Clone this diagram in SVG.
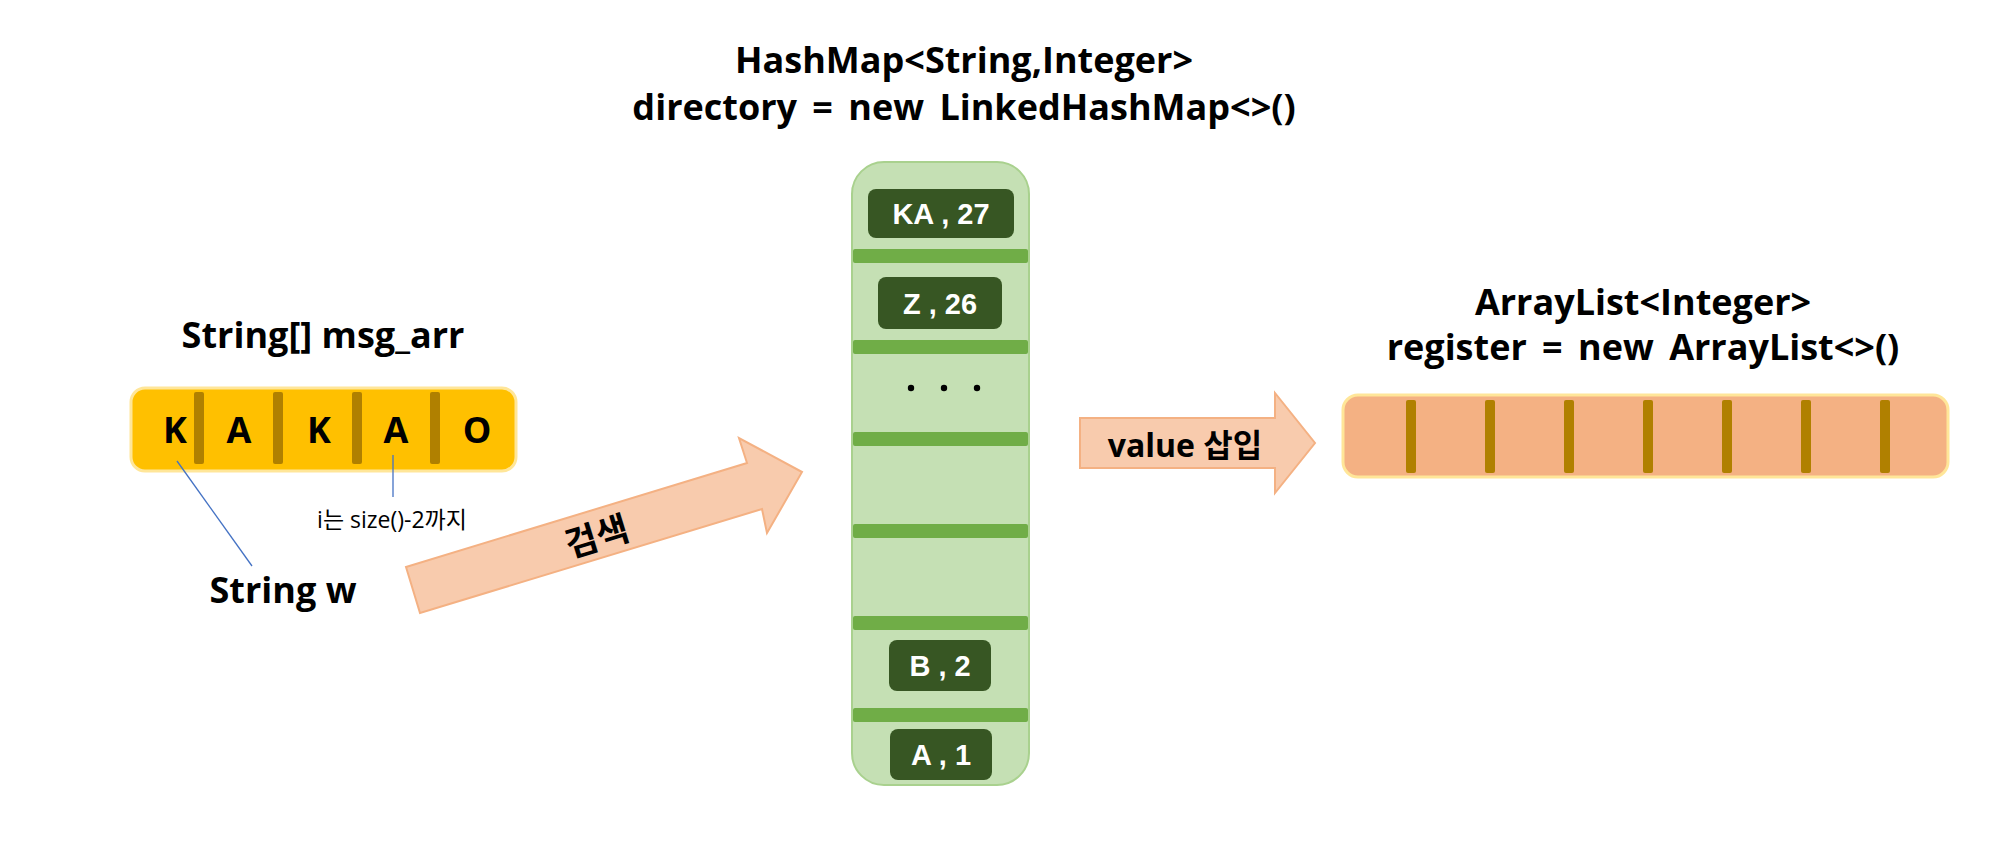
<svg xmlns="http://www.w3.org/2000/svg" width="1989" height="858" viewBox="0 0 1989 858">
<style>
.t{font-family:"Open Sans","Noto Sans CJK KR",sans-serif;font-weight:bold;fill:#000;}
.big{font-size:36px;}
.ws{word-spacing:6px;}
.key{font-family:"Liberation Sans",Arial,sans-serif;font-weight:bold;font-size:29px;fill:#fff;text-anchor:middle;}
.sepY{fill:#b08000;}
.bar{fill:#70ad47;}
.kbox{fill:#375623;}
.arrow{fill:#f8cbad;stroke:#f4b183;stroke-width:2;}
.lead{stroke:#4472c4;stroke-width:1.3;fill:none;}
</style>
<rect width="1989" height="858" fill="#fff"/>

<g id="title-hashmap">
<text class="t big" x="964" y="73" text-anchor="middle">HashMap&lt;String,Integer&gt;</text>
<text class="t big ws" x="964" y="120" text-anchor="middle">directory = new LinkedHashMap&lt;&gt;()</text>
</g>

<g id="title-msgarr">
<text class="t big" x="323" y="348" text-anchor="middle">String[] msg_arr</text>
</g>

<g id="msg-arr">
<rect x="131" y="388" width="385" height="83" rx="14" fill="#ffc000" stroke="#ffe699" stroke-width="3"/>
<rect class="sepY" x="194" y="392" width="10" height="72" rx="2"/>
<rect class="sepY" x="273" y="392" width="10" height="72" rx="2"/>
<rect class="sepY" x="352" y="392" width="10" height="72" rx="2"/>
<rect class="sepY" x="430" y="392" width="10" height="72" rx="2"/>
<text class="t big" x="175" y="443" text-anchor="middle">K</text>
<text class="t big" x="239" y="443" text-anchor="middle">A</text>
<text class="t big" x="319" y="443" text-anchor="middle">K</text>
<text class="t big" x="396" y="443" text-anchor="middle">A</text>
<text class="t big" x="477" y="443" text-anchor="middle">O</text>
</g>

<g id="label-i">
<text x="392" y="528" text-anchor="middle" style="font-family:'Open Sans','Noto Sans CJK KR',sans-serif;font-size:23px;fill:#000;">i는 size()-2까지</text>
</g>

<g id="label-w">
<text class="t big" x="283" y="603" text-anchor="middle">String w</text>
</g>

<g id="directory">
<rect x="852" y="162" width="177" height="623" rx="32" fill="#c5e0b4" stroke="#a9d18e" stroke-width="2"/>
<rect class="bar" x="853" y="249" width="175" height="14" rx="2"/>
<rect class="bar" x="853" y="340" width="175" height="14" rx="2"/>
<rect class="bar" x="853" y="432" width="175" height="14" rx="2"/>
<rect class="bar" x="853" y="524" width="175" height="14" rx="2"/>
<rect class="bar" x="853" y="616" width="175" height="14" rx="2"/>
<rect class="bar" x="853" y="708" width="175" height="14" rx="2"/>
<circle cx="911" cy="388" r="3.2" fill="#000"/>
<circle cx="944" cy="388" r="3.2" fill="#000"/>
<circle cx="977" cy="388" r="3.2" fill="#000"/>
</g>
<g id="entry-ka27">
<rect class="kbox" x="868" y="189" width="146" height="49" rx="8"/>
<text class="key" x="941" y="224">KA , 27</text>
</g>
<g id="entry-z26">
<rect class="kbox" x="878" y="277" width="124" height="52" rx="8"/>
<text class="key" x="940" y="314">Z , 26</text>
</g>
<g id="entry-b2">
<rect class="kbox" x="889" y="640" width="102" height="51" rx="8"/>
<text class="key" x="940" y="676">B , 2</text>
</g>
<g id="entry-a1">
<rect class="kbox" x="890" y="729" width="102" height="51" rx="8"/>
<text class="key" x="941" y="765">A , 1</text>
</g>

<g id="title-register">
<text class="t big" x="1643" y="315" text-anchor="middle">ArrayList&lt;Integer&gt;</text>
<text class="t big ws" x="1643" y="360" text-anchor="middle">register = new ArrayList&lt;&gt;()</text>
</g>

<g id="register">
<rect x="1343" y="395" width="605" height="82" rx="15" fill="#f4b183" stroke="#ffe699" stroke-width="3"/>
<rect class="sepY" x="1406" y="400" width="10" height="73" rx="2"/>
<rect class="sepY" x="1485" y="400" width="10" height="73" rx="2"/>
<rect class="sepY" x="1564" y="400" width="10" height="73" rx="2"/>
<rect class="sepY" x="1643" y="400" width="10" height="73" rx="2"/>
<rect class="sepY" x="1722" y="400" width="10" height="73" rx="2"/>
<rect class="sepY" x="1801" y="400" width="10" height="73" rx="2"/>
<rect class="sepY" x="1880" y="400" width="10" height="73" rx="2"/>
</g>

<g id="connectors">
<line class="lead" x1="177" y1="461" x2="252" y2="566"/>
<line class="lead" x1="393" y1="455" x2="393" y2="497"/>
<g id="arrow-search">
<polygon class="arrow" points="406,567 747,463 739,438 802,472 767,533 762,509 420,613"/>
<text class="t" x="597" y="549" text-anchor="middle" font-size="35" transform="rotate(-17 597 537)">검색</text>
</g>
<g id="arrow-value">
<polygon class="arrow" points="1080,418 1275,418 1275,393 1315,443 1275,493 1275,468 1080,468"/>
<text class="t" x="1185" y="457" text-anchor="middle" font-size="32">value 삽입</text>
</g>
</g>
</svg>
